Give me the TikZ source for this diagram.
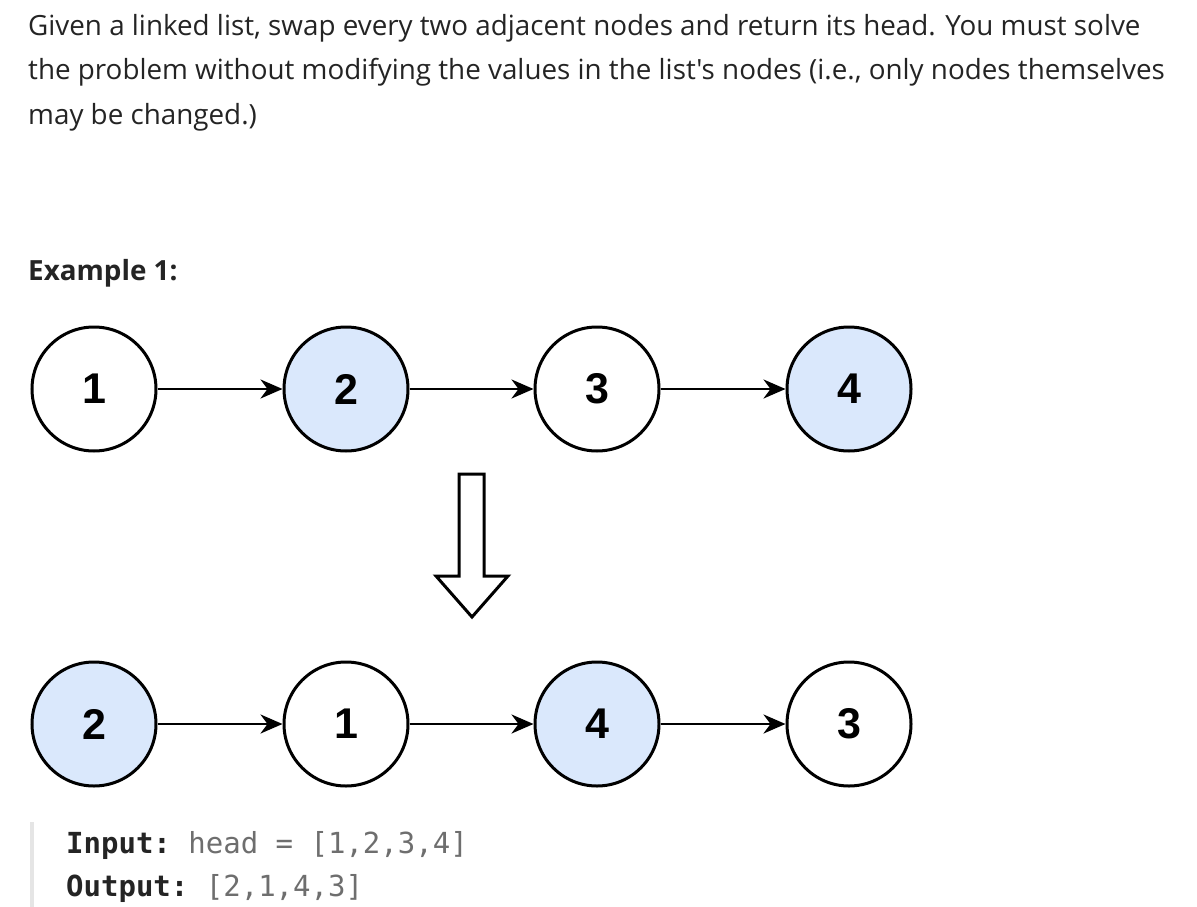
\documentclass[tikz,border=0pt]{standalone}
\usepackage{fontspec}
\setmainfont{Open Sans}
\newfontfamily\bodyfont{Open Sans}[Ligatures=TeXOff]
\newfontfamily\numfont{Liberation Sans}
\setmonofont{DejaVu Sans Mono}
\usetikzlibrary{arrows.meta}
\definecolor{txt}{HTML}{242424}
\definecolor{blue}{HTML}{DAE8FC}
\definecolor{codegray}{HTML}{6E6E6E}
\definecolor{barg}{HTML}{E5E5E5}
\tikzset{
  lnode/.style={circle,draw=black,line width=3,minimum size=124,inner sep=0,font=\numfont\bfseries\fontsize{43}{43}\selectfont,fill=white},
  bnode/.style={lnode,fill=blue},
  link/.style={line width=2.8,-{Stealth[length=22,width=19,inset=7]}},
  para/.style={anchor=base west,inner sep=0,text=txt,font=\bodyfont\fontsize{27.8}{27.8}\selectfont},
  code/.style={anchor=base west,inner sep=0,font=\ttfamily\fontsize{29}{29}\selectfont}
}
\begin{document}
\begin{tikzpicture}[x=1pt,y=-1pt]
\useasboundingbox[fill=white] (0,0) rectangle (1197,907);
\node[para] (l1) at (28,36) {Given a linked list, swap every two adjacent nodes and return its head. You must solve};
\node[para] (l2) at (28,80) {the problem without modifying the values in the list's nodes (i.e., only nodes themselves};
\node[para] (l3) at (28,124) {may be changed.)};
\node[para,font=\bodyfont\bfseries\fontsize{27.8}{27.8}\selectfont] (ex) at (28,280) {Example 1:};
% top row
\node[lnode] (a1) at (94,389) {1};
\node[bnode] (a2) at (346,389) {2};
\node[lnode] (a3) at (597,389) {3};
\node[bnode] (a4) at (849,389) {4};
\draw[link] (a1) -- (a2);
\draw[link] (a2) -- (a3);
\draw[link] (a3) -- (a4);
% bottom row
\node[bnode] (b1) at (94,724) {2};
\node[lnode] (b2) at (346,724) {1};
\node[bnode] (b3) at (597,724) {4};
\node[lnode] (b4) at (849,724) {3};
\draw[link] (b1) -- (b2);
\draw[link] (b2) -- (b3);
\draw[link] (b3) -- (b4);
% hollow arrow
\draw[line width=3,line join=miter,fill=white] (459,474) -- (484,474) -- (484,576) -- (508,576) -- (472,617) -- (436,576) -- (459,576) -- cycle;
% code block
\fill[barg] (30,822) rectangle (34,907);
\node[code] (in) at (66,853) {\textcolor{txt}{\bfseries Input:} \textcolor{codegray}{head = [1,2,3,4]}};
\node[code] (out) at (66,896) {\textcolor{txt}{\bfseries Output:} \textcolor{codegray}{[2,1,4,3]}};
\end{tikzpicture}
\end{document}
